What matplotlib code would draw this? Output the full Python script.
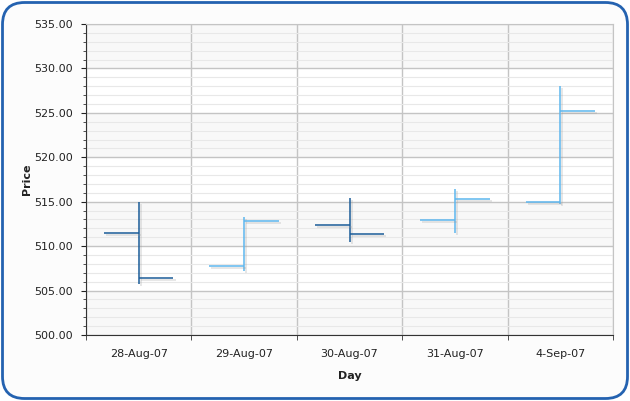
import matplotlib
matplotlib.use("Agg")
import matplotlib.pyplot as plt
import matplotlib.patheffects as pe
from matplotlib.patches import FancyBboxPatch
from matplotlib.ticker import MultipleLocator, FixedLocator, FormatStrFormatter

days = ["28-Aug-07", "29-Aug-07", "30-Aug-07", "31-Aug-07", "4-Sep-07"]
opens = [511.47, 507.73, 512.34, 512.98, 514.93]
highs = [514.96, 513.28, 515.38, 516.43, 528.02]
lows = [505.73, 507.20, 510.50, 511.45, 514.71]
closes = [506.42, 512.79, 511.33, 515.27, 525.17]

up_color = "#5db6ee"
down_color = "#1b5c98"

fig = plt.figure(figsize=(6.3, 4.01), dpi=100)
fig.patch.set_facecolor("white")
border = FancyBboxPatch((2.5 / 630, 2.5 / 401), 625 / 630, 396 / 401,
                        boxstyle="round,pad=0,rounding_size=0.035",
                        transform=fig.transFigure, facecolor="#fcfcfc",
                        edgecolor="#2462b0", linewidth=2.0, zorder=-10,
                        mutation_aspect=630 / 401)
fig.patches.append(border)

ax = fig.add_axes([86 / 630, 1 - 335 / 401, (613 - 86) / 630, (335 - 24) / 401])
ax.set_facecolor("white")
ax.set_xlim(-0.5, len(days) - 0.5)
ax.set_ylim(500, 535)

for lo in range(500, 535, 10):
    ax.axhspan(lo, lo + 5, color="#f8f8f8", zorder=0, lw=0)

ax.yaxis.set_major_locator(MultipleLocator(5))
ax.yaxis.set_minor_locator(MultipleLocator(1))
ax.yaxis.set_major_formatter(FormatStrFormatter("%.2f"))
ax.grid(axis="y", which="major", color="#c4c4c4", lw=1.0, zorder=1)
ax.grid(axis="y", which="minor", color="#e8e8e8", lw=0.8, zorder=0.5)

ax.set_xticks(range(len(days)))
ax.set_xticklabels(days)
ax.xaxis.set_minor_locator(FixedLocator([i - 0.5 for i in range(len(days) + 1)]))
ax.grid(axis="x", which="minor", color="#c4c4c4", lw=1.0, zorder=1)
ax.tick_params(axis="x", which="major", length=0, pad=10, labelsize=8, colors="#222222")
ax.tick_params(axis="x", which="minor", length=3.5, direction="out", color="#333333")
ax.tick_params(axis="y", which="major", length=3.5, direction="out", labelsize=8,
               pad=6, colors="#222222")
ax.tick_params(axis="y", which="minor", length=2.5, direction="out", color="#333333")

for s in ["top", "right"]:
    ax.spines[s].set_color("#c4c4c4")
for s in ["left", "bottom"]:
    ax.spines[s].set_color("#333333")

shadow = [pe.SimpleLineShadow(offset=(1.5, -1.5), shadow_color="#999999", alpha=0.3),
          pe.Normal()]
tw = 0.33
for i in range(len(days)):
    c = up_color if closes[i] >= opens[i] else down_color
    ax.vlines(i, lows[i], highs[i], color=c, lw=1.1, zorder=3, path_effects=shadow)
    ax.hlines(opens[i], i - tw, i, color=c, lw=1.1, zorder=3, path_effects=shadow)
    ax.hlines(closes[i], i, i + tw, color=c, lw=1.1, zorder=3, path_effects=shadow)

ax.set_xlabel("Day", fontsize=8, fontweight="bold", color="#222222", labelpad=9)
ax.set_ylabel("Price", fontsize=8, fontweight="bold", color="#222222")
ax.yaxis.set_label_coords((32 - 86) / 527, 0.5)

fig.savefig("out.png", dpi=100)
